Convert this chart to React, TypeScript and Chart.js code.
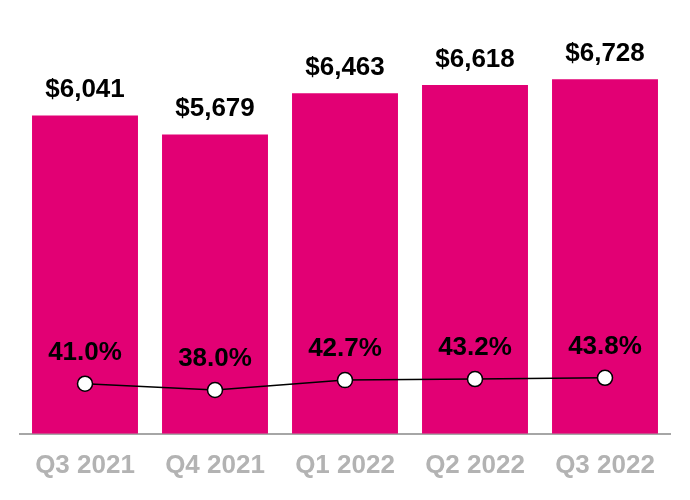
import { useEffect, useRef } from "react";
import { Chart, registerables } from "chart.js";

Chart.register(...registerables);

const quarters = ["Q3 2021", "Q4 2021", "Q1 2022", "Q2 2022", "Q3 2022"];
const revenue = [6041, 5679, 6463, 6618, 6728];
const margin = [41.0, 38.0, 42.7, 43.2, 43.8];

const FONT = "'Liberation Sans', Arial, sans-serif";

const labelPlugin = {
  id: "valueLabels",
  afterDatasetsDraw(chart: Chart) {
    const ctx = chart.ctx;
    ctx.save();
    ctx.fillStyle = "#000";
    ctx.textAlign = "center";
    ctx.textBaseline = "alphabetic";
    ctx.font = `bold 26px ${FONT}`;
    chart.getDatasetMeta(0).data.forEach((el: any, i: number) => {
      ctx.fillText("$" + revenue[i].toLocaleString("en-US"), el.x, el.y - 18);
    });
    chart.getDatasetMeta(1).data.forEach((el: any, i: number) => {
      ctx.fillText(margin[i].toFixed(1) + "%", el.x, el.y - 24);
    });
    ctx.restore();
  },
};

export default function App() {
  const chartRef = useRef<HTMLCanvasElement>(null);
  const chartInstance = useRef<Chart | null>(null);

  useEffect(() => {
    if (!chartRef.current) return;
    const ctx = chartRef.current.getContext("2d");
    if (!ctx) return;

    chartInstance.current = new Chart(ctx, {
      type: "bar",
      data: {
        labels: quarters,
        datasets: [
          {
            type: "bar",
            data: revenue,
            backgroundColor: "#e20074",
            barPercentage: 0.815,
            categoryPercentage: 1,
            yAxisID: "y",
            order: 2,
          },
          {
            type: "line",
            data: margin,
            borderColor: "#000",
            borderWidth: 1.5,
            pointRadius: 7.5,
            pointBackgroundColor: "#fff",
            pointBorderColor: "#000",
            pointBorderWidth: 1.5,
            tension: 0,
            yAxisID: "y1",
            order: 1,
          },
        ] as any,
      },
      options: {
        animation: false,
        responsive: true,
        maintainAspectRatio: false,
        layout: { padding: { left: 20, right: 20, top: 0, bottom: 11 } },
        plugins: {
          legend: { display: false },
          tooltip: { enabled: false },
        },
        scales: {
          x: {
            grid: { display: false },
            border: { display: true, color: "#a6a6a6", width: 2 },
            ticks: {
              color: "#b3b3b3",
              font: { family: FONT, size: 26, weight: "bold" },
              padding: 8,
            },
          },
          y: { display: false, min: 0, max: 8060 },
          y1: { display: false, min: 17.2, max: 219 },
        },
      },
      plugins: [labelPlugin],
    });

    return () => chartInstance.current?.destroy();
  }, []);

  return (
    <div style={{ position: "fixed", left: 0, top: 0, width: 690, height: 500, background: "#fff" }}>
      <canvas ref={chartRef} />
    </div>
  );
}
